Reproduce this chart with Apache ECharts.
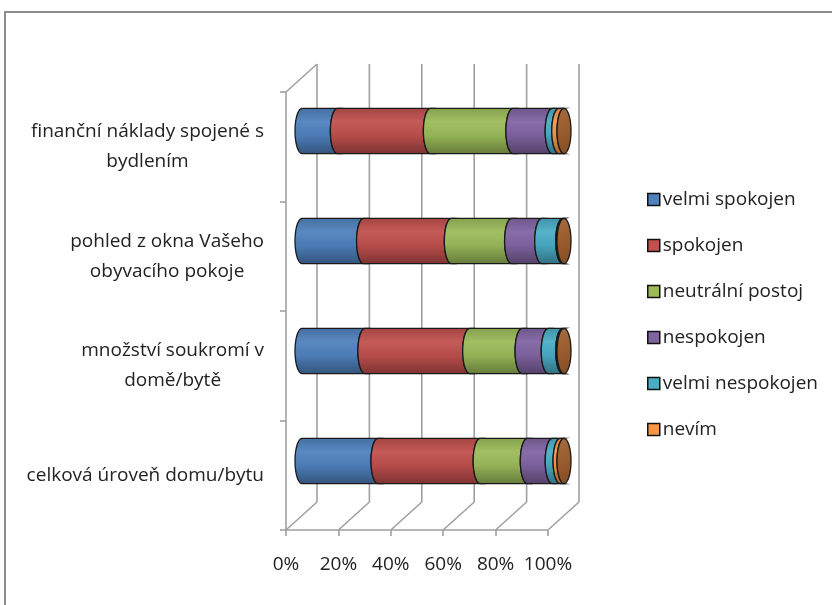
<!DOCTYPE html>
<html>
<head>
<meta charset="utf-8">
<script src="https://cdn.jsdelivr.net/npm/echarts@6/dist/echarts.min.js"></script>
<style>
html, body { margin: 0; padding: 0; background: #fff; }
#chart { width: 832px; height: 605px; }
</style>
</head>
<body>
<div id="chart"></div>
<script>
// categories top to bottom
const categories = [
  'finanční náklady spojené s\nbydlením',
  'pohled z okna Vašeho\nobyvacího pokoje',
  'množství soukromí v\ndomě/bytě',
  'celková úroveň domu/bytu'
]
const seriesNames = ['velmi spokojen', 'spokojen', 'neutrální postoj', 'nespokojen', 'velmi nespokojen', 'nevím']
const xTicks = [0, 20, 40, 60, 80, 100]

// percent shares per category
const velmiSpokojen = [13.5, 23.5, 24, 29]
const spokojen = [35.5, 33.5, 40, 39]
const neutralni = [31.5, 23, 20, 18]
const nespokojen = [15, 11.5, 10, 9.5]
const velmiNespokojen = [2.5, 8, 5.5, 3]
const nevim = [2, 0.5, 0.5, 1.5]

const seriesValues = [velmiSpokojen, spokojen, neutralni, nespokojen, velmiNespokojen, nevim]
const colors = ['#4F81BD', '#C0504D', '#9BBB59', '#8064A2', '#4BACC6', '#F79646']
const capColor = '#9E5B27'

const DX = 31, DY = -28   // depth offset of the back wall

function shade(hex, f) {
  const n = parseInt(hex.slice(1), 16)
  let r = n >> 16, g = (n >> 8) & 255, b = n & 255
  if (f > 0) {
    r += (255 - r) * f; g += (255 - g) * f; b += (255 - b) * f
  } else {
    r *= 1 + f; g *= 1 + f; b *= 1 + f
  }
  return 'rgb(' + Math.round(r) + ',' + Math.round(g) + ',' + Math.round(b) + ')'
}

function cylinderFill(c) {
  return new echarts.graphic.LinearGradient(0, 0, 0, 1, [
    { offset: 0, color: shade(c, -0.15) },
    { offset: 0.3, color: shade(c, 0.06) },
    { offset: 0.6, color: shade(c, -0.05) },
    { offset: 1, color: shade(c, -0.35) }
  ])
}

function cylinderItem(si) {
  return function (params, api) {
    const cat = api.value(1)
    let start = 0
    for (let i = 0; i < si; i++) start += seriesValues[i][cat]
    const end = start + api.value(0)
    const p0 = api.coord([start, cat])
    const p1 = api.coord([end, cat])
    const ry = api.size([0, 1])[1] * 0.205
    const rx = 7
    const cy = p0[1]
    const steps = 24
    const pts = []
    for (let k = 0; k <= steps; k++) {
      const t = -Math.PI / 2 + Math.PI * k / steps
      pts.push([p1[0] - rx * Math.cos(t), cy + ry * Math.sin(t)])
    }
    for (let k = 0; k <= steps; k++) {
      const t = Math.PI / 2 - Math.PI * k / steps
      pts.push([p0[0] - rx * Math.cos(t), cy + ry * Math.sin(t)])
    }
    const children = [{
      type: 'polygon',
      shape: { points: pts },
      style: { fill: cylinderFill(colors[si]), stroke: '#1a1a1a', lineWidth: 1.3 }
    }]
    if (si === seriesValues.length - 1) {
      const cap = []
      for (let k = 0; k < 48; k++) {
        const t = Math.PI * 2 * k / 48
        cap.push([p1[0] + rx * Math.cos(t), cy + ry * Math.sin(t)])
      }
      children.push({
        type: 'polygon',
        shape: { points: cap },
        style: {
          fill: new echarts.graphic.LinearGradient(0, 0, 1, 1, [
            { offset: 0, color: shade(capColor, 0.1) },
            { offset: 1, color: shade(capColor, -0.15) }
          ]),
          stroke: '#1a1a1a', lineWidth: 1.3
        }
      })
    }
    return { type: 'group', children: children }
  }
}

function wallItem(params, api) {
  const v = api.value(0)
  const x = api.coord([v, 0])[0]
  const cs = params.coordSys
  const top = cs.y, bottom = cs.y + cs.height
  const style = { stroke: '#a0a0a0', lineWidth: 1.6 }
  const children = [
    { type: 'line', shape: { x1: x, y1: bottom, x2: x + DX, y2: bottom + DY }, style: style },
    { type: 'line', shape: { x1: x + DX, y1: bottom + DY, x2: x + DX, y2: top + DY }, style: style }
  ]
  if (v === 0) {
    children.push({ type: 'line', shape: { x1: x, y1: top, x2: x + DX, y2: top + DY }, style: style })
  }
  return { type: 'group', children: children }
}

const chart = echarts.init(document.getElementById('chart'))

const series = [{
  type: 'custom',
  name: 'walls',
  xAxisIndex: 0,
  yAxisIndex: 0,
  silent: true,
  z: 1,
  renderItem: wallItem,
  encode: { x: 0, y: 1 },
  data: xTicks.map(v => [v, 0])
}]

seriesValues.forEach((vals, si) => {
  series.push({
    type: 'custom',
    name: seriesNames[si],
    xAxisIndex: 1,
    yAxisIndex: 1,
    z: 3,
    itemStyle: { color: colors[si] },
    renderItem: cylinderItem(si),
    encode: { x: 0, y: 1 },
    data: vals.map((v, i) => [v, i])
  })
})

const font = "'Open Sans', sans-serif"

const options = {
  animation: false,
  textStyle: { fontFamily: font, color: '#222' },
  grid: [
    { left: 286, top: 92, width: 262, height: 438 },
    { left: 302, top: 76, width: 262, height: 440 }
  ],
  xAxis: [
    {
      gridIndex: 0,
      type: 'value',
      min: 0,
      max: 100,
      interval: 20,
      axisLine: { show: true, lineStyle: { color: '#a0a0a0', width: 1.6 } },
      axisTick: { show: true, length: 6, lineStyle: { color: '#a0a0a0', width: 1.6 } },
      splitLine: { show: false },
      axisLabel: { formatter: '{value}%', fontSize: 19, color: '#222', margin: 25, fontFamily: font }
    },
    { gridIndex: 1, type: 'value', min: 0, max: 100, show: false }
  ],
  yAxis: [
    {
      gridIndex: 0,
      type: 'category',
      inverse: true,
      data: categories,
      axisLine: { show: true, lineStyle: { color: '#a0a0a0', width: 1.6 } },
      axisTick: { show: true, length: 6, lineStyle: { color: '#a0a0a0', width: 1.6 } },
      axisLabel: {
        align: 'right',
        margin: 22,
        formatter: value => value.split('\n').map(s => '{c|' + s + '}').join('\n'),
        rich: {
          c: { align: 'center', fontSize: 19, lineHeight: 30, color: '#222', fontFamily: font }
        }
      }
    },
    { gridIndex: 1, type: 'category', inverse: true, data: categories, show: false }
  ],
  legend: {
    data: seriesNames,
    orient: 'vertical',
    left: 642,
    top: 185,
    icon: 'rect',
    itemWidth: 12,
    itemHeight: 12,
    itemGap: 27,
    itemStyle: { borderColor: '#111', borderWidth: 1.5 },
    textStyle: { fontSize: 19, color: '#222', fontFamily: font, padding: [0, 0, 0, -2] }
  },
  graphic: [{
    type: 'rect',
    shape: { x: 5, y: 12, width: 900, height: 700 },
    style: { fill: 'none', stroke: '#8c8c8c', lineWidth: 2 },
    silent: true
  }],
  series: series
}

chart.setOption(options)
</script>
</body>
</html>
